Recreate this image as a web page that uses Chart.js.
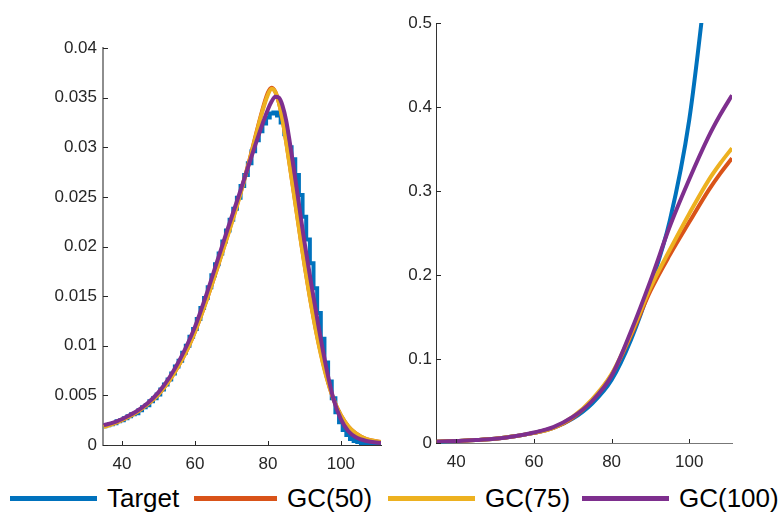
<!DOCTYPE html>
<html>
<head>
<meta charset="utf-8">
<script src="https://cdn.jsdelivr.net/npm/chart.js@4"></script>
<style>
  body { margin: 0; background: #fff; width: 780px; height: 514px; position: relative; overflow: hidden;
         font-family: "Liberation Sans", Arial, sans-serif; }
  #left { position: absolute; left: 0; top: 0; }
  #right { position: absolute; left: 390px; top: 0; }
  .leg { position: absolute; top: 483px; height: 30px; display: flex; align-items: center; font-size: 26px; color: #000; white-space: nowrap; }
  .leg .ln { display: inline-block; height: 5px; margin-right: 10px; }
</style>
</head>
<body>
<canvas id="left" width="400" height="475"></canvas>
<canvas id="right" width="390" height="475"></canvas>
<div id="legend"></div>
<script>
// series names and colours (MATLAB default order)
const seriesNames = ['Target', 'GC(50)', 'GC(75)', 'GC(100)'];
const seriesColors = ['#0072BD', '#D95319', '#EDB120', '#7E2F8E'];

// left panel: density. Target is a histogram with unit bins starting at 35
const binStart = 35;
const targetDensity = [
  0.0019, 0.0020, 0.0021, 0.0022, 0.0024, 0.0025, 0.0027, 0.0029, 0.0031, 0.0032,
  0.0035, 0.0038, 0.0040, 0.0044, 0.0047, 0.0051, 0.0056, 0.0061, 0.0066, 0.0072,
  0.0079, 0.0085, 0.0093, 0.0100, 0.0109, 0.0117, 0.0127, 0.0138, 0.0148, 0.0159,
  0.0171, 0.0182, 0.0193, 0.0205, 0.0216, 0.0227, 0.0238, 0.0249, 0.0261, 0.0272,
  0.0284, 0.0296, 0.0307, 0.0316, 0.0324, 0.0330, 0.0334, 0.0335, 0.0332, 0.0325,
  0.0313, 0.0300, 0.0288, 0.0272, 0.0252, 0.0230, 0.0207, 0.0183, 0.0158, 0.0133,
  0.0107, 0.0083, 0.0064, 0.0047, 0.0033, 0.0023, 0.0015, 0.0010, 0.0006, 0.0004,
  0.0003, 0.0002, 0.0002, 0.0001, 0.0001, 0.0001, 0.0001
];
const densityX = [35, 38, 41, 44, 47, 50, 53, 56, 58, 60, 63, 66, 69, 72, 75, 78, 80, 81, 82, 83, 84, 85, 86, 87, 88, 89, 90, 92, 94, 96, 98, 100, 102, 104, 107, 111];
const gc50Density  = [0.0019, 0.0022, 0.0027, 0.0033, 0.0041, 0.0051, 0.0065, 0.0083, 0.0097, 0.0114, 0.0144, 0.0177, 0.0212, 0.0248, 0.0288, 0.0331, 0.0355, 0.0360, 0.0356, 0.0345, 0.0328, 0.0306, 0.0282, 0.0257, 0.0232, 0.0207, 0.0183, 0.0139, 0.0101, 0.0070, 0.0046, 0.0030, 0.0019, 0.0012, 0.0006, 0.0003];
const gc75Density  = [0.0018, 0.0022, 0.0027, 0.0033, 0.0041, 0.0051, 0.0065, 0.0083, 0.0097, 0.0114, 0.0144, 0.0177, 0.0211, 0.0247, 0.0287, 0.0330, 0.0353, 0.0359, 0.0356, 0.0345, 0.0328, 0.0305, 0.0281, 0.0256, 0.0231, 0.0206, 0.0182, 0.0138, 0.0100, 0.0069, 0.0046, 0.0030, 0.0019, 0.0012, 0.0006, 0.0003];
const gc100Density = [0.0020, 0.0023, 0.0028, 0.0034, 0.0042, 0.0053, 0.0068, 0.0087, 0.0102, 0.0119, 0.0150, 0.0184, 0.0218, 0.0251, 0.0285, 0.0318, 0.0338, 0.0346, 0.0351, 0.0350, 0.0342, 0.0327, 0.0305, 0.0281, 0.0256, 0.0230, 0.0205, 0.0160, 0.0117, 0.0078, 0.0046, 0.0026, 0.0014, 0.0008, 0.0004, 0.0002];

// right panel
const rightX = [35, 40, 45, 50, 55, 60, 65, 70, 75, 80, 85, 90, 95, 100, 105, 108, 111];
const targetRight = [0.0015, 0.0025, 0.0035, 0.005, 0.008, 0.012, 0.018, 0.029, 0.047, 0.075, 0.123, 0.187, 0.265, 0.385, 0.575, 0.69, 0.80];
const gc50Right   = [0.0015, 0.0025, 0.0035, 0.005, 0.008, 0.012, 0.018, 0.030, 0.051, 0.081, 0.128, 0.181, 0.224, 0.263, 0.301, 0.321, 0.339];
const gc75Right   = [0.0015, 0.0025, 0.0035, 0.005, 0.008, 0.012, 0.018, 0.031, 0.052, 0.082, 0.130, 0.185, 0.230, 0.273, 0.313, 0.333, 0.351];
const gc100Right  = [0.0015, 0.0025, 0.0035, 0.005, 0.008, 0.0125, 0.019, 0.031, 0.050, 0.080, 0.133, 0.193, 0.258, 0.314, 0.365, 0.391, 0.414];

// ticks
const xTicks = [40, 60, 80, 100];
const leftYTicks = [0, 0.005, 0.01, 0.015, 0.02, 0.025, 0.03, 0.035, 0.04];
const rightYTicks = [0, 0.1, 0.2, 0.3, 0.4, 0.5];

const tickFont = { family: '"Liberation Sans", Arial, sans-serif', size: 17 };
const axisColor = '#262626';

function pts(xs, ys) {
  return ys.map((y, i) => ({ x: xs[i], y: y }));
}

// MATLAB style ticks pointing into the axes
const inwardTicks = {
  id: 'inwardTicks',
  afterDatasetsDraw(chart) {
    const { ctx, chartArea, scales } = chart;
    ctx.save();
    ctx.strokeStyle = axisColor;
    ctx.lineWidth = 1;
    scales.y.ticks.forEach(t => {
      const y = Math.round(scales.y.getPixelForValue(t.value)) + 0.5;
      ctx.beginPath();
      ctx.moveTo(chartArea.left, y);
      ctx.lineTo(chartArea.left + 5, y);
      ctx.stroke();
    });
    scales.x.ticks.forEach(t => {
      const x = Math.round(scales.x.getPixelForValue(t.value)) + 0.5;
      ctx.beginPath();
      ctx.moveTo(x, chartArea.bottom);
      ctx.lineTo(x, chartArea.bottom - 4);
      ctx.stroke();
    });
    ctx.restore();
  }
};

function lineSet(label, data, color, order, extra) {
  return Object.assign({
    label: label,
    data: data,
    borderColor: color,
    backgroundColor: color,
    borderWidth: 4,
    pointRadius: 0,
    fill: false,
    cubicInterpolationMode: 'monotone',
    order: order
  }, extra || {});
}

function makeChart(id, datasets, yTicks, yMax, opts) {
  new Chart(document.getElementById(id), {
    type: 'line',
    data: { datasets: datasets },
    options: {
      responsive: false,
      animation: false,
      events: [],
      layout: { padding: opts.padding },
      plugins: { legend: { display: false }, tooltip: { enabled: false } },
      scales: {
        x: {
          type: 'linear',
          min: 34.8,
          max: 111,
          afterBuildTicks: s => { s.ticks = xTicks.map(v => ({ value: v })); },
          afterFit: s => { s.height = opts.xHeight; },
          grid: { display: false, drawTicks: false },
          border: { display: true, color: opts.xBorder, width: 1 },
          ticks: { color: axisColor, font: tickFont, padding: 9, maxRotation: 0, callback: v => String(v) }
        },
        y: {
          type: 'linear',
          min: 0,
          max: yMax,
          afterBuildTicks: s => { s.ticks = yTicks.map(v => ({ value: v })); },
          afterFit: s => { s.width = opts.yWidth; },
          grid: { display: false, drawTicks: false },
          border: { display: true, color: opts.yBorder, width: opts.yBorderWidth },
          ticks: { color: axisColor, font: tickFont, padding: opts.yPad, callback: v => String(v) }
        }
      }
    },
    plugins: [inwardTicks]
  });
}

const targetBins = targetDensity.map((y, i) => ({ x: binStart + i, y: y }));

makeChart('left', [
  lineSet(seriesNames[0], targetBins, seriesColors[0], 3, { stepped: 'middle', cubicInterpolationMode: 'default' }),
  lineSet(seriesNames[1], pts(densityX, gc50Density), seriesColors[1], 2),
  lineSet(seriesNames[2], pts(densityX, gc75Density), seriesColors[2], 1),
  lineSet(seriesNames[3], pts(densityX, gc100Density), seriesColors[3], 0)
], leftYTicks, 0.04, {
  padding: { top: 48, right: 19, left: 0, bottom: 0 },
  xHeight: 30, yWidth: 103, yPad: 6,
  xBorder: '#333', yBorder: '#8e8e8e', yBorderWidth: 2
});

makeChart('right', [
  lineSet(seriesNames[0], pts(rightX, targetRight), seriesColors[0], 3, { clip: { top: 0, left: 3, right: 3, bottom: 3 } }),
  lineSet(seriesNames[1], pts(rightX, gc50Right), seriesColors[1], 2),
  lineSet(seriesNames[2], pts(rightX, gc75Right), seriesColors[2], 1),
  lineSet(seriesNames[3], pts(rightX, gc100Right), seriesColors[3], 0)
], rightYTicks, 0.5, {
  padding: { top: 23, right: 48, left: 0, bottom: 0 },
  xHeight: 32, yWidth: 46, yPad: 4,
  xBorder: '#777', yBorder: '#333', yBorderWidth: 1
});

// legend along the bottom
const legendLeft = [10, 194, 388, 582];
const legendLineW = [87, 83, 87, 87];
const legendEl = document.getElementById('legend');
seriesNames.forEach((name, i) => {
  const item = document.createElement('div');
  item.className = 'leg';
  item.style.left = legendLeft[i] + 'px';
  const ln = document.createElement('span');
  ln.className = 'ln';
  ln.style.width = legendLineW[i] + 'px';
  ln.style.background = seriesColors[i];
  const tx = document.createElement('span');
  tx.textContent = name;
  item.appendChild(ln);
  item.appendChild(tx);
  legendEl.appendChild(item);
});
</script>
</body>
</html>
